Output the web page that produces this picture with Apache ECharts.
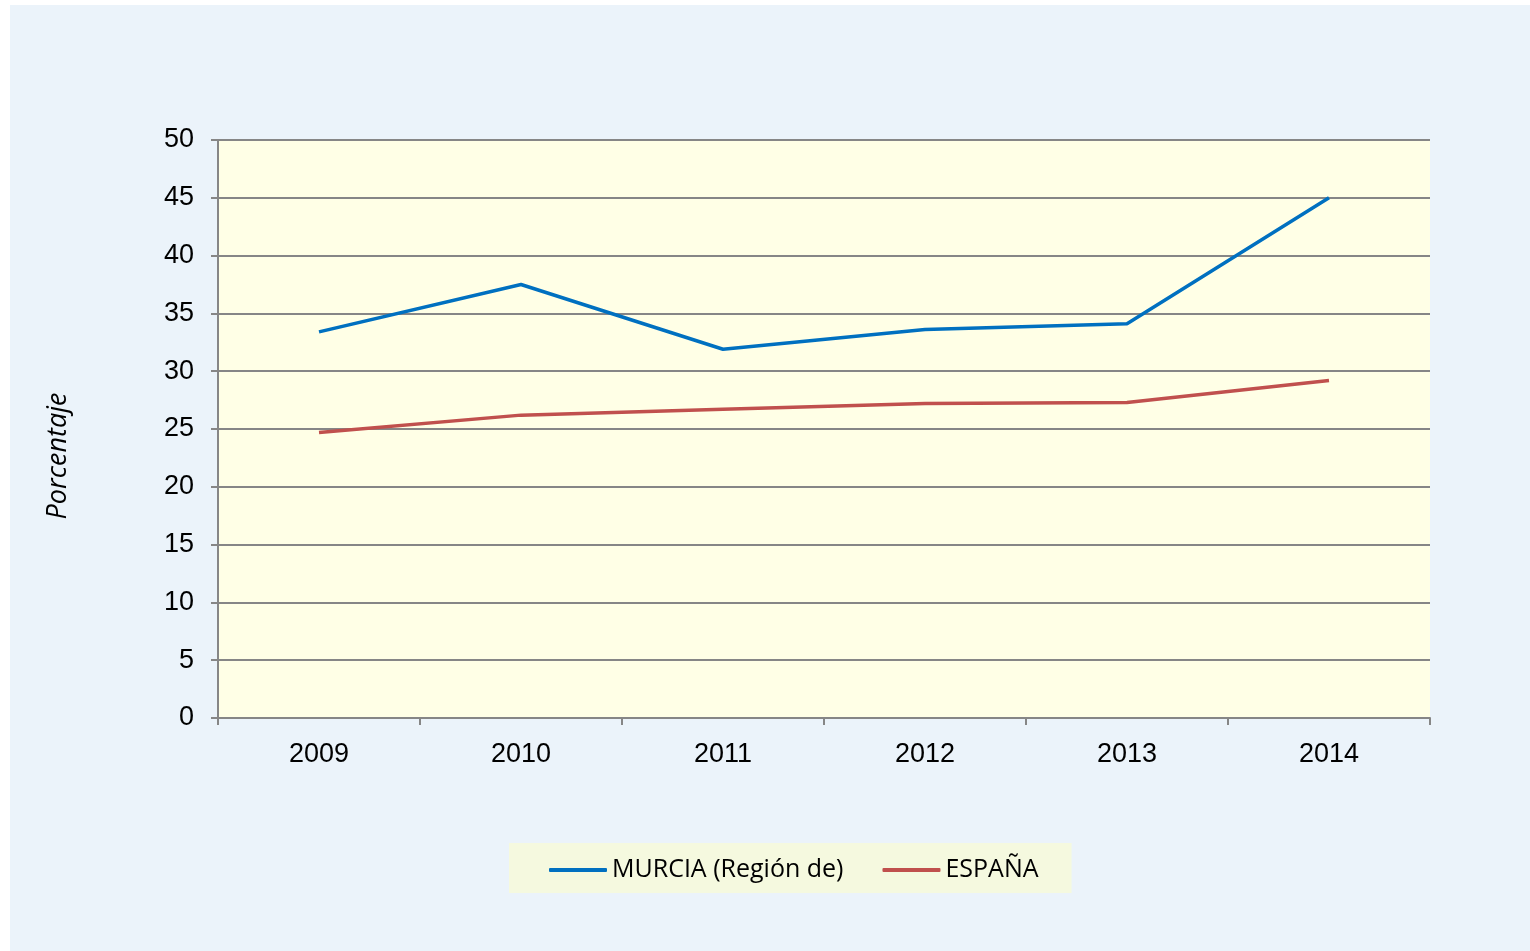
<!DOCTYPE html>
<html>
<head>
<meta charset="utf-8">
<script src="https://cdn.jsdelivr.net/npm/echarts@6/dist/echarts.min.js"></script>
<style>
  html, body { margin: 0; padding: 0; background: #fff; }
  #chart { position: absolute; left: 10px; top: 5px; width: 1520px; height: 946px; }
</style>
</head>
<body>
<div id="chart"></div>
<script>
const years = ['2009', '2010', '2011', '2012', '2013', '2014']
const murcia = [33.4, 37.5, 31.9, 33.6, 34.1, 45.0]
const espana = [24.7, 26.2, 26.7, 27.2, 27.3, 29.2]

const chart = echarts.init(document.getElementById('chart'), null, { renderer: 'canvas' })
const grey = '#868686'

chart.setOption({
  backgroundColor: '#ebf3fa',
  animation: false,
  grid: { left: 208, top: 135, width: 1212, height: 578, show: true, backgroundColor: '#ffffe6', borderWidth: 0 },
  graphic: [{
    type: 'text',
    x: 48, y: 451,
    rotation: Math.PI / 2,
    style: {
      text: 'Porcentaje',
      fontFamily: 'Open Sans', fontStyle: 'italic', fontSize: 27,
      fill: '#000', align: 'center', verticalAlign: 'middle'
    }
  }],
  legend: {
    left: 499,
    top: 838,
    backgroundColor: '#f5f9df',
    padding: [13, 33, 9, 40],
    itemGap: 39,
    itemWidth: 58,
    itemHeight: 4,
    icon: 'roundRect',
    textStyle: { fontFamily: 'Open Sans', fontSize: 25, color: '#000', lineHeight: 28 },
    data: ['MURCIA (Región de)', 'ESPAÑA']
  },
  xAxis: {
    type: 'category',
    data: years,
    boundaryGap: true,
    axisLine: { lineStyle: { color: grey, width: 2 } },
    axisTick: { show: true, length: 7, lineStyle: { color: grey, width: 2 } },
    axisLabel: { color: '#000', fontFamily: 'Liberation Sans', fontSize: 27, margin: 23 }
  },
  yAxis: {
    type: 'value',
    min: 0, max: 50, interval: 5,
    axisLine: { show: true, lineStyle: { color: grey, width: 2 } },
    axisTick: { show: true, length: 7, lineStyle: { color: grey, width: 2 } },
    axisLabel: { color: '#000', fontFamily: 'Liberation Sans', fontSize: 27, margin: 24, padding: [6, 0, 0, 0] },
    splitLine: { lineStyle: { color: grey, width: 2 } }
  },
  series: [
    { name: 'MURCIA (Región de)', type: 'line', data: murcia, showSymbol: false, symbol: 'none',
      lineStyle: { color: '#0070c0', width: 3.5 }, itemStyle: { color: '#0070c0' } },
    { name: 'ESPAÑA', type: 'line', data: espana, showSymbol: false, symbol: 'none',
      lineStyle: { color: '#c0504d', width: 3.5 }, itemStyle: { color: '#c0504d' } }
  ]
})
</script>
</body>
</html>
